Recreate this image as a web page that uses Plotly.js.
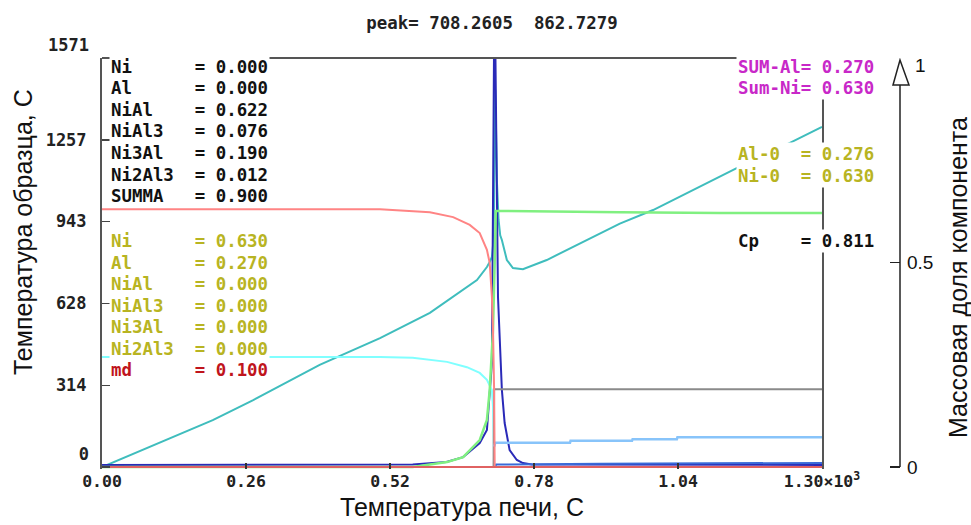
<!DOCTYPE html>
<html>
<head>
<meta charset="utf-8">
<script src="https://cdn.plot.ly/plotly-3.0.1.min.js"></script>
<style>html,body{margin:0;padding:0;background:#fff;}</style>
</head>
<body>
<div id="chart" style="width:971px;height:525px;"></div>
<script>
// ---- data (furnace temperature, C) ----
// sample temperature (left axis)
const sampleX = [0,200,273,393,502,592,677,695,700,704,706,708,709,710,711,713,716,719,722,731,742,760,803,863,935,995,1056,1146,1242,1300];
const sampleY = [0,180,257,392,495,592,718,768,787,807,850,1000,1300,1450,1350,1100,950,890,872,795,764,760,795,860,935,987,1052,1148,1245,1306];
// DTA signal (left axis)
const dtaX = [0,100,400,561,622,652,682,695,704,706,708,710,713,715,722,727,736,749,760,776,1300];
const dtaY = [8,8,8,10,19,38,92,142,400,900,1650,1650,910,653,296,169,65,27,15,10,8];
// mass fractions (right axis)
const niX = [0,502,592,634,664,682,695,700,704,706,708,709,1300];
const niY = [0.630,0.630,0.623,0.611,0.592,0.572,0.531,0.499,0.416,0.335,0.188,0,0];
const alX = [0,502,561,623,659,682,695,704,706,708,712];
const alY = [0.269,0.269,0.267,0.257,0.244,0.230,0.213,0.188,0.147,0.010,0];
const nialX = [0,561,623,652,682,695,700,706,709,711,935,1115,1300];
const nialY = [0,0,0.012,0.024,0.066,0.115,0.188,0.335,0.499,0.626,0.623,0.621,0.621];
const ni3alX = [0,707,708,1300];
const ni3alY = [0,0,0.190,0.190];
const nial3X = [708,710,845,846,957,958,1038,1039,1300];
const nial3Y = [0.050,0.059,0.059,0.064,0.064,0.068,0.068,0.073,0.073];
const ni2al3X = [0,708,712,900,1300];
const ni2al3Y = [0,0,0.006,0.008,0.010];
const mdX = [0,1300];
const mdY = [0,0];
// tick labels
const xTickVals = [0,260,520,780,1040,1300];
const xTickText = ['0.00','0.26','0.52','0.78','1.04','1.30×10<sup>3</sup>'];
const yTickVals = [314,628,943,1257];
const yTickText = ['314','628','943','1257'];
const yEndVals = [0,1571];
const yEndText = ['0','1571'];
const y2TickVals = [0,0.5];
const y2TickText = ['0','0.5'];
// text panels
const curLabels = ['Ni','Al','NiAl','NiAl3','Ni3Al','Ni2Al3','SUMMA'];
const curValues = ['0.000','0.000','0.622','0.076','0.190','0.012','0.900'];
const iniLabels = ['Ni','Al','NiAl','NiAl3','Ni3Al','Ni2Al3','md'];
const iniValues = ['0.630','0.270','0.000','0.000','0.000','0.000','0.100'];
const rightLabels = ['SUM-Al','Sum-Ni','Al-0','Ni-0','Cp'];
const rightValues = ['0.270','0.630','0.276','0.630','0.811'];
const peakText = 'peak= 708.2605  862.7279';

// ---- geometry helpers ----
const L = 102, W = 808, T = 58, B = 469, H = B - T;
const px = v => (v - L) / W;
const py = v => (B - v) / H;
const NB = '\u00a0';
const pad = (s, n) => (s + NB.repeat(20)).slice(0, n);
const mono = (size, color) => ({family: 'DejaVu Sans Mono, monospace', size: size, color: color, weight: 'bold'});

const line = (x, y, color, axis, width) => ({
  x: x, y: y, type: 'scatter', mode: 'lines', yaxis: axis || 'y',
  line: {color: color, width: width || 2}, hoverinfo: 'skip', showlegend: false
});

const traces = [
  line(sampleX, sampleY, '#3fbdbd', 'y', 2),
  line(alX, alY, '#80ffff', 'y2', 2),
  line(nialX, nialY, '#80f080', 'y2', 2.5),
  line(ni3alX, ni3alY, '#8a8a8a', 'y2', 2),
  line(nial3X, nial3Y, '#88c4fa', 'y2', 2.5),
  line(ni2al3X, ni2al3Y, '#3a6ad8', 'y2', 2),
  line(niX, niY, '#ff8484', 'y2', 2),
  line(dtaX, dtaY, '#2a2ab8', 'y', 2),
  line(mdX, mdY, '#e06262', 'y2', 2)
];
// invisible carrier so the end-label axis is drawn
traces.push({x: [0], y: [0], type: 'scatter', mode: 'none', yaxis: 'y3', hoverinfo: 'skip', showlegend: false});

const ann = [];
const OLIVE = '#b8b422', BLACK = '#111111';
curLabels.forEach((lab, i) => {
  ann.push({xref:'paper', yref:'paper', x: px(109), y: py(67 + 21.5*i), xanchor:'left', yanchor:'middle',
    showarrow:false, bgcolor:'#ffffff', borderpad:1,
    text: pad(lab, 8) + '=' + NB + curValues[i], font: mono(17.4, BLACK)});
});
iniLabels.forEach((lab, i) => {
  ann.push({xref:'paper', yref:'paper', x: px(109), y: py(241 + 21.5*i), xanchor:'left', yanchor:'middle',
    showarrow:false, bgcolor:'#ffffff', borderpad:1,
    text: pad(lab, 8) + '=' + NB + iniValues[i], font: mono(17.4, lab === 'md' ? '#c0141c' : OLIVE)});
});
const rightY = [67, 88.5, 154, 175.5, 241];
const rightColors = ['#c828c8','#c828c8',OLIVE,OLIVE,BLACK];
rightLabels.forEach((lab, i) => {
  ann.push({xref:'paper', yref:'paper', x: px(736), y: py(rightY[i]), xanchor:'left', yanchor:'middle',
    showarrow:false, bgcolor:'#ffffff', borderpad:1,
    text: pad(lab, 6) + '=' + NB + rightValues[i], font: mono(17.4, rightColors[i])});
});
// right axis top label and axis titles
ann.push({xref:'paper', yref:'paper', x: px(921), y: py(66), xanchor:'center', yanchor:'middle', showarrow:false,
  text:'1', font:{family:'Liberation Sans, Arial, sans-serif', size:19, color:'#111'}});
ann.push({xref:'paper', yref:'paper', x: px(23), y: py(232), xanchor:'center', yanchor:'middle', showarrow:false,
  textangle:-90, text:'Температура образца, С', font:{family:'Liberation Sans, Arial, sans-serif', size:25, color:'#111'}});
ann.push({xref:'paper', yref:'paper', x: px(958), y: py(278), xanchor:'center', yanchor:'middle', showarrow:false,
  textangle:-90, text:'Массовая доля компонента', font:{family:'Liberation Sans, Arial, sans-serif', size:25, color:'#111'}});

const xEnd = 720 / W;
const axX = px(900);
const yRange = [-7.7, 1571];
const layout = {
  width: 971, height: 525,
  margin: {l: L, r: 971 - L - W, t: T, b: 525 - B},
  paper_bgcolor: '#ffffff', plot_bgcolor: '#ffffff',
  showlegend: false,
  title: {text: peakText.replace(/ {2}/g, NB + NB), x: 492/971, xref: 'container', xanchor: 'center',
    y: 1 - 23/525, yanchor: 'middle', font: mono(17.4, '#222')},
  xaxis: {
    domain: [0, xEnd], range: [0, 1300], showline: false, showgrid: false, zeroline: false,
    ticks: 'inside', ticklen: 6, tickwidth: 1.5, tickcolor: '#333',
    tickvals: xTickVals, ticktext: xTickText, tickfont: mono(16.5, '#222'),
    title: {text: 'Температура печи, С', font: {family: 'Liberation Sans, Arial, sans-serif', size: 25, color: '#111'}, standoff: 8}
  },
  yaxis: {
    range: yRange, showline: true, mirror: true, linecolor: '#555', linewidth: 2,
    showgrid: false, zeroline: false, ticks: 'inside', ticklen: 8, tickwidth: 1.5, tickcolor: '#444',
    tickvals: yTickVals, ticktext: yTickText, tickfont: mono(17, '#222'),
    ticklabelstandoff: 10
  },
  yaxis3: {
    overlaying: 'y', anchor: 'x', side: 'left', range: yRange, showline: false, showgrid: false, zeroline: false,
    ticks: 'inside', ticklen: 8, tickwidth: 1.5, tickcolor: '#444',
    tickvals: yEndVals, ticktext: yEndText, tickfont: mono(17, '#222'),
    ticklabelposition: 'outside top', ticklabelstandoff: 12
  },
  yaxis2: {
    overlaying: 'y', side: 'right', anchor: 'free', position: axX,
    range: [-0.0049, 1], showline: false, showgrid: false, zeroline: false,
    ticks: 'inside', ticklen: 10, tickwidth: 1.5, tickcolor: '#222',
    tickvals: y2TickVals, ticktext: y2TickText, ticklabelstandoff: 6,
    tickfont: {family: 'Liberation Sans, Arial, sans-serif', size: 19, color: '#111'}
  },
  shapes: [
    {type: 'line', xref: 'paper', yref: 'paper', x0: 0, x1: xEnd, y0: 1, y1: 1, line: {color: '#555', width: 2}, layer: 'above'},
    {type: 'line', xref: 'paper', yref: 'y2', x0: axX, x1: axX, y0: 0, y1: 0.934, line: {color: '#222', width: 1.5}},
    {type: 'path', xref: 'paper', yref: 'y2', path: 'M ' + px(893) + ',0.934 L ' + axX + ',0.995 L ' + px(909) + ',0.934 Z',
      fillcolor: '#ffffff', line: {color: '#222', width: 1.5}}
  ],
  annotations: ann
};

Plotly.newPlot('chart', traces, layout, {displayModeBar: false, staticPlot: true});
</script>
</body>
</html>
